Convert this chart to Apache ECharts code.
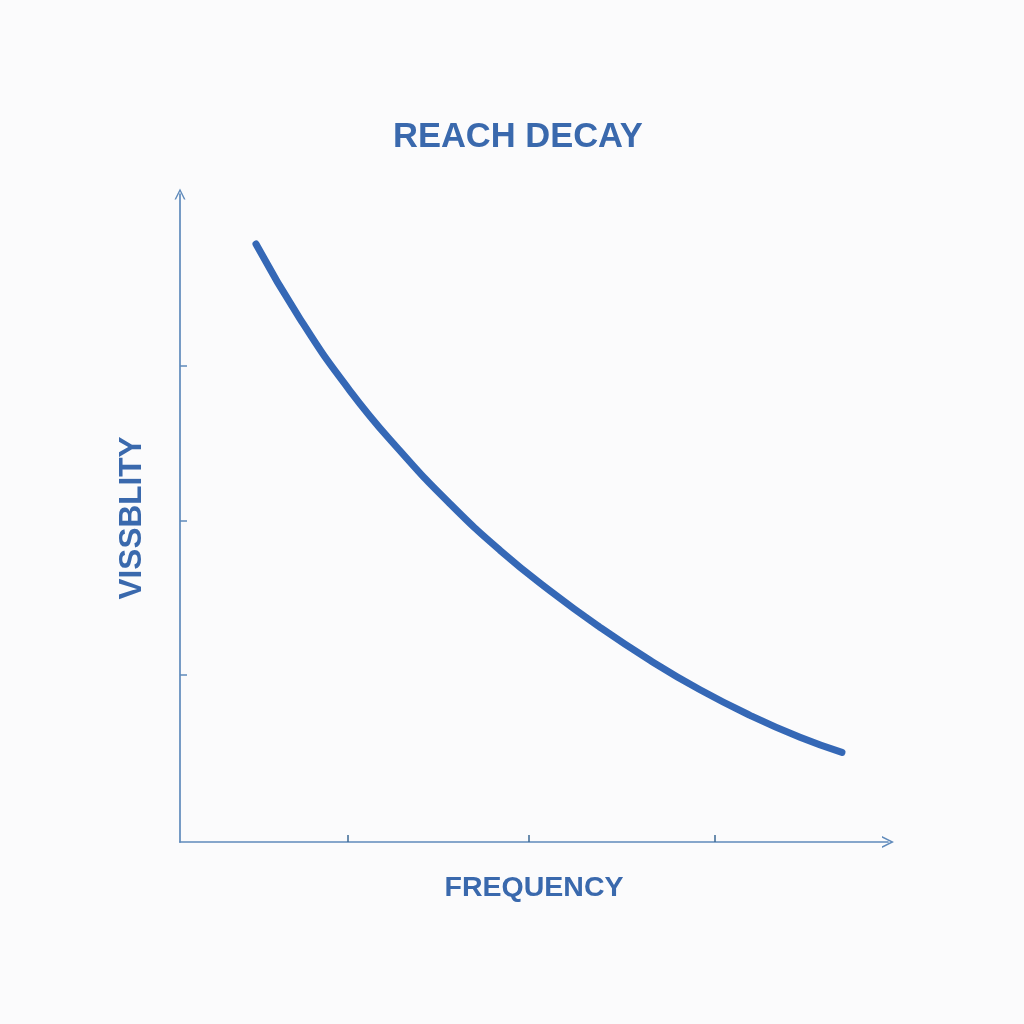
<!DOCTYPE html>
<html>
<head>
<meta charset="utf-8">
<script src="https://cdn.jsdelivr.net/npm/echarts@6/dist/echarts.min.js"></script>
<style>
html,body{margin:0;padding:0;background:#fbfbfc;}
#c{width:1024px;height:1024px;}
</style>
</head>
<body>
<div id="c"></div>
<script>
// Data
var frequency = [1.073, 1.695, 2.401, 3.107, 3.814, 4.520, 5.226, 5.932, 6.638, 7.345, 8.051, 8.757, 9.350];
var visibility = [92.28, 80.74, 69.63, 60.37, 52.19, 45.02, 38.77, 33.13, 28.04, 23.49, 19.55, 16.16, 13.83];
var xTicks = [2.37, 4.93, 7.55];
var yTicks = [25.77, 49.54, 73.46];
var titleText = 'REACH DECAY';
var xName = 'FREQUENCY';
var yName = 'VISSBLITY';

var points = frequency.map(function (f, i) { return [f, visibility[i]]; });

var axisColor = '#5f8abb';
var textColor = '#3a69ad';
var fontFam = '"Liberation Sans", Arial, sans-serif';
var chevron = 'path://M0,10 L5,0 L10,10 L8.6,10 L5,2.8 L1.4,10 Z';

var chart = echarts.init(document.getElementById('c'), null, {renderer: 'canvas'});
chart.setOption({
  backgroundColor: '#fbfbfc',
  animation: false,
  title: {
    text: titleText,
    left: 388,
    top: 115,
    textStyle: {
      color: textColor,
      fontSize: 34.5,
      fontWeight: 'bold',
      fontFamily: fontFam
    }
  },
  grid: {left: 180, right: 136, top: 194, bottom: 182},
  xAxis: {
    type: 'value',
    min: 0,
    max: 10,
    name: xName,
    nameLocation: 'middle',
    nameGap: 32,
    nameTextStyle: {color: textColor, fontSize: 28.5, fontWeight: 'bold', fontFamily: fontFam},
    axisLine: {
      show: true,
      lineStyle: {color: axisColor, width: 1.7},
      symbol: ['none', chevron],
      symbolSize: [16, 12],
      symbolOffset: [0, 0]
    },
    axisTick: {show: true, inside: true, length: 7, customValues: xTicks, lineStyle: {color: '#3d6a94', width: 1.5}},
    axisLabel: {show: false},
    splitLine: {show: false}
  },
  yAxis: {
    type: 'value',
    min: 0,
    max: 100,
    name: yName,
    nameLocation: 'middle',
    nameGap: 32,
    nameRotate: 90,
    nameTextStyle: {color: textColor, fontSize: 31.5, fontWeight: 'bold', fontFamily: fontFam},
    axisLine: {
      show: true,
      lineStyle: {color: axisColor, width: 1.7},
      symbol: ['none', chevron],
      symbolSize: [14, 11],
      symbolOffset: [0, 0]
    },
    axisTick: {show: true, inside: true, length: 7, customValues: yTicks, lineStyle: {color: axisColor, width: 1.5}},
    axisLabel: {show: false},
    splitLine: {show: false}
  },
  series: [{
    type: 'line',
    data: points,
    smooth: true,
    showSymbol: false,
    lineStyle: {color: '#3568b6', width: 7, cap: 'round'}
  }]
});
</script>
</body>
</html>
